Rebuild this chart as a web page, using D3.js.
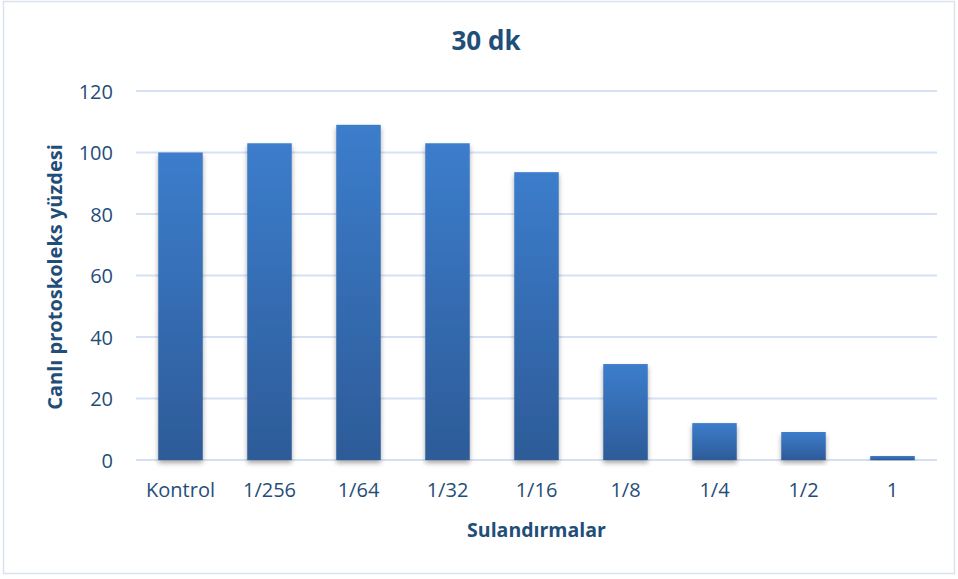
<!DOCTYPE html>
<html>
<head>
<meta charset="utf-8">
<script src="https://cdn.jsdelivr.net/npm/d3@7/dist/d3.min.js"></script>
<style>
  html, body { margin: 0; padding: 0; background: #fff; }
  svg { display: block; font-family: "Open Sans", "Noto Sans", sans-serif; }
</style>
</head>
<body>
<svg id="chart" width="958" height="579"></svg>
<script>
// Dilutions and viable protoscolex percentages (30 min)
const categories = ["Kontrol", "1/256", "1/64", "1/32", "1/16", "1/8", "1/4", "1/2", "1"];
const values = [100, 103, 109, 103, 93.6, 31.2, 12, 9.1, 1.3];
const yTicks = [0, 20, 40, 60, 80, 100, 120];

const titleText = "30 dk";
const xTitle = "Sulandırmalar";
const yTitle = "Canlı protoskoleks yüzdesi";

const textColor = "#1F4E79";
const gridColor = "#D6E2F3";
const fontStack = "'Open Sans', 'Noto Sans', sans-serif";

const svg = d3.select("#chart");
const plot = { left: 136, right: 937, top: 91, bottom: 460 };

// chart frame
svg.append("rect")
  .attr("x", 3.5).attr("y", 1.5)
  .attr("width", 951).attr("height", 572)
  .attr("fill", "#fff")
  .attr("stroke", "#D9E2EF")
  .attr("stroke-width", 1.5);

const defs = svg.append("defs");
const grad = defs.append("linearGradient")
  .attr("id", "barGrad")
  .attr("x1", 0).attr("y1", 0).attr("x2", 0).attr("y2", 1);
grad.append("stop").attr("offset", "0%").attr("stop-color", "#3C7DCC");
grad.append("stop").attr("offset", "100%").attr("stop-color", "#2D5B98");

const shadow = defs.append("filter")
  .attr("id", "barShadow")
  .attr("x", "-30%").attr("y", "-10%")
  .attr("width", "160%").attr("height", "130%");
shadow.append("feDropShadow")
  .attr("dx", 0).attr("dy", 3)
  .attr("stdDeviation", 2.5)
  .attr("flood-color", "#000")
  .attr("flood-opacity", 0.35);

const x = d3.scaleBand()
  .domain(categories)
  .range([plot.left, plot.right])
  .paddingInner(0.5)
  .paddingOuter(0.25);

const y = d3.scaleLinear()
  .domain([0, 120])
  .range([plot.bottom, plot.top]);

// horizontal gridlines
svg.append("g")
  .selectAll("line")
  .data(yTicks)
  .join("line")
  .attr("x1", plot.left).attr("x2", plot.right)
  .attr("y1", d => y(d)).attr("y2", d => y(d))
  .attr("stroke", gridColor)
  .attr("stroke-width", 2);

// y axis labels
const yAxis = d3.axisLeft(y).tickValues(yTicks).tickSize(0).tickPadding(0);
const gy = svg.append("g")
  .attr("transform", `translate(113,0)`)
  .call(yAxis);
gy.select(".domain").remove();
gy.selectAll("text")
  .attr("fill", textColor)
  .attr("font-size", 20)
  .attr("dy", "0.36em")
  .style("font-family", fontStack);

// bars
svg.append("g")
  .selectAll("rect")
  .data(values)
  .join("rect")
  .attr("x", (d, i) => x(categories[i]))
  .attr("y", d => y(d))
  .attr("width", x.bandwidth())
  .attr("height", d => y(0) - y(d))
  .attr("fill", "url(#barGrad)")
  .attr("filter", "url(#barShadow)");

// x axis labels
const xAxis = d3.axisBottom(x).tickSize(0).tickPadding(0);
const gx = svg.append("g")
  .attr("transform", `translate(0,${plot.bottom})`)
  .call(xAxis);
gx.select(".domain").remove();
gx.selectAll("text")
  .attr("y", 37)
  .attr("dy", 0)
  .attr("fill", textColor)
  .attr("font-size", 20)
  .style("font-family", fontStack);

// titles
svg.append("text")
  .attr("x", 486).attr("y", 49.5)
  .attr("text-anchor", "middle")
  .attr("fill", textColor)
  .attr("font-size", 26)
  .attr("font-weight", "bold")
  .text(titleText);

svg.append("text")
  .attr("x", (plot.left + plot.right) / 2).attr("y", 537)
  .attr("text-anchor", "middle")
  .attr("fill", textColor)
  .attr("font-size", 19.5)
  .attr("font-weight", "bold")
  .text(xTitle);

svg.append("text")
  .attr("transform", `translate(62,277) rotate(-90)`)
  .attr("text-anchor", "middle")
  .attr("fill", textColor)
  .attr("font-size", 20)
  .attr("font-weight", "bold")
  .text(yTitle);
</script>
</body>
</html>
